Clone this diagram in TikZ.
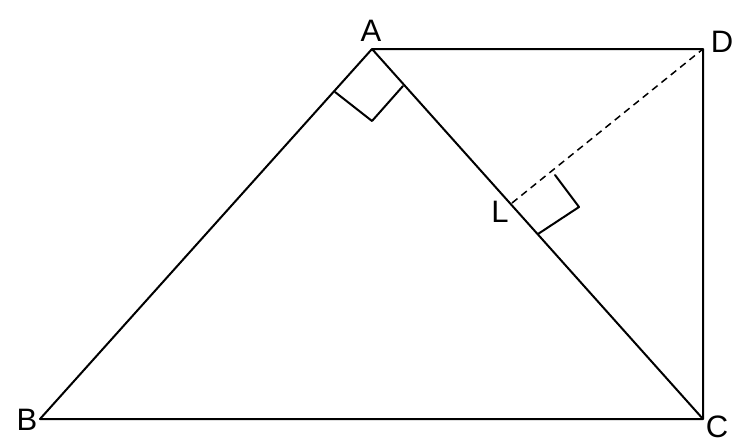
\documentclass[tikz,border=0pt]{standalone}
\usepackage{fontspec}
\setmainfont{Liberation Sans}
\begin{document}
\begin{tikzpicture}[x=1pt,y=-1pt,
  edge/.style={line width=2pt, line cap=round, line join=round},
  dashedge/.style={line width=1.5pt, dash pattern=on 7pt off 5pt},
  lab/.style={font=\fontsize{31}{31}\selectfont, inner sep=0pt}]
\useasboundingbox (0,0) rectangle (750,447);
\coordinate (A) at (372,49);
\coordinate (B) at (40,419);
\coordinate (C) at (703,419);
\coordinate (D) at (703,49);
\coordinate (L) at (512,203);
\coordinate (ma1) at (335,92);
\coordinate (ma2) at (372,121);
\coordinate (ma3) at (403,86);
\coordinate (ml1) at (555,175);
\coordinate (ml2) at (579,207);
\coordinate (ml3) at (538,234);
\draw[edge] (A) -- (B) -- (C) -- (A) -- (D) -- (C);
\draw[dashedge] (L) -- (D);
\draw[edge] (ma1) -- (ma2) -- (ma3);
\draw[edge] (ml1) -- (ml2) -- (ml3);
\node[lab] (tA) at (371,31) {A};
\node[lab] (tB) at (27,420) {B};
\node[lab] (tC) at (717,427) {C};
\node[lab] (tD) at (722,42) {D};
\node[lab] (tL) at (500,212) {L};
\end{tikzpicture}
\end{document}
